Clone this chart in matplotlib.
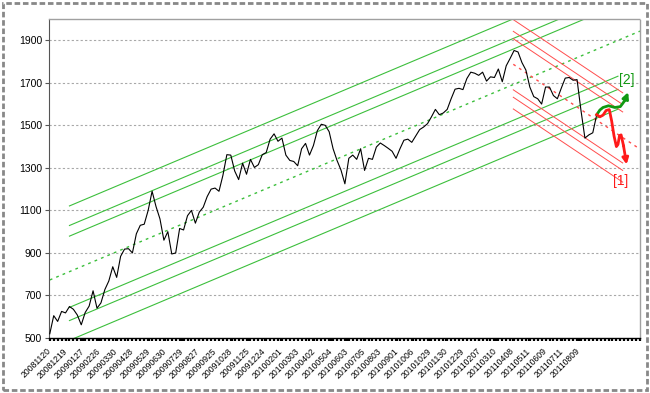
import numpy as np
import matplotlib
matplotlib.use("Agg")
import matplotlib.pyplot as plt
from matplotlib.patches import Rectangle

plt.rcParams["font.family"] = ["Liberation Sans", "DejaVu Sans"]

# ---- data (trading-day index, 5-day samples) ----
price = [520, 605, 578, 625, 618, 648, 635, 608, 562, 620,
         650, 722, 640, 665, 728, 768, 835, 785, 884, 918,
         920, 900, 990, 1030, 1035, 1100, 1190, 1118, 1060, 960,
         1000, 895, 900, 1015, 1008, 1075, 1100, 1040, 1092, 1115,
         1165, 1200, 1205, 1190, 1265, 1362, 1360, 1285, 1245, 1322,
         1270, 1340, 1302, 1315, 1362, 1372, 1435, 1460, 1425, 1440,
         1360, 1335, 1330, 1310, 1390, 1415, 1360, 1405, 1475, 1505,
         1500, 1470, 1390, 1335, 1290, 1225, 1345, 1360, 1340, 1390,
         1288, 1345, 1340, 1398, 1417, 1405, 1392, 1378, 1345, 1390,
         1430, 1435, 1420, 1450, 1480, 1492, 1508, 1540, 1575, 1550,
         1558, 1575, 1625, 1670, 1674, 1668, 1720, 1750, 1745, 1735,
         1750, 1708, 1728, 1725, 1765, 1705, 1780, 1815, 1852, 1845,
         1795, 1760, 1680, 1635, 1625, 1600, 1680, 1680, 1640, 1625,
         1675, 1722, 1725, 1712, 1715, 1570, 1440, 1455, 1465, 1550]
STEP = 5

date_labels = ["20081120", "20081219", "20090127", "20090226", "20090330", "20090428",
               "20090529", "20090630", "20090729", "20090827", "20090925", "20091028",
               "20091125", "20091224", "20100201", "20100303", "20100402", "20100504",
               "20100603", "20100705", "20100803", "20100901", "20101006", "20101029",
               "20101130", "20101229", "20110207", "20110310", "20110408", "20110511",
               "20110609", "20110711", "20110809"]
LABEL_EVERY = 21

# rising (green) channel: values at day 25 and day 722
green_days = [25, 722]
green_start = [1121, 1029, 979, 644, 582, 489]
green_end = [2208, 2116, 2066, 1731, 1669, 1576]
green_mid_days = [0, 750]
green_mid = [773, 1943]

# falling (red) channel: values at day 589 and day 728
red_days = [589, 728]
red_start = [1997, 1942, 1907, 1667, 1632, 1577]
red_end = [1653, 1598, 1563, 1323, 1288, 1233]
red_mid_days = [589, 750]
red_mid = [1787, 1388]

# scenario paths
sc2_days = [695, 699, 703, 710, 718, 725, 731, 735]
sc2_vals = [1550, 1572, 1584, 1592, 1584, 1588, 1618, 1656]
sc1_days = [695, 699, 703, 707, 711, 714, 717, 720, 722, 724, 726, 729, 733]
sc1_vals = [1550, 1540, 1548, 1570, 1574, 1520, 1450, 1400, 1410, 1452, 1455, 1405, 1316]

GREEN = "#3cbf3c"
RED = "#ff4d4d"

fig = plt.figure(figsize=(6.5, 3.93), dpi=100)
ax = fig.add_axes([49 / 650, 1 - 338 / 393, 591 / 650, 319 / 393])

# grid
for v in range(700, 2000, 200):
    ax.axhline(v, color="#a8a8a8", lw=0.8, ls=(0, (2, 2)), zorder=0)

# green channel
for s, e in zip(green_start, green_end):
    ax.plot(green_days, [s, e], color=GREEN, lw=0.8, zorder=2)
ax.plot(green_mid_days, green_mid, color=GREEN, lw=1.0, ls=(0, (2, 3)), zorder=2)

# red channel
for s, e in zip(red_start, red_end):
    ax.plot(red_days, [s, e], color=RED, lw=0.7, zorder=2)
ax.plot(red_mid_days, red_mid, color=RED, lw=1.0, ls=(0, (2, 3)), zorder=2)

# price
days = np.arange(len(price)) * STEP
ax.plot(days, price, color="black", lw=0.8, zorder=3)

# scenarios
ax.plot(sc2_days[:-1], sc2_vals[:-1], color="#119911", lw=2, zorder=4)
ax.annotate("", xy=(sc2_days[-1], sc2_vals[-1]), xytext=(sc2_days[-2], sc2_vals[-2]),
            arrowprops=dict(arrowstyle="-|>", color="#119911", lw=2, mutation_scale=9,
                            shrinkA=0, shrinkB=0), zorder=4)
ax.plot(sc1_days[:-1], sc1_vals[:-1], color="#ff1a1a", lw=2, zorder=4)
ax.annotate("", xy=(sc1_days[-1], sc1_vals[-1]), xytext=(sc1_days[-2], sc1_vals[-2]),
            arrowprops=dict(arrowstyle="-|>", color="#ff1a1a", lw=2, mutation_scale=9,
                            shrinkA=0, shrinkB=0), zorder=4)
ax.text(733, 1711, "[2]", color="#119911", fontsize=10, ha="center", va="center")
ax.text(726, 1237, "[1]", color="#ff1a1a", fontsize=10, ha="center", va="center")

# axes
ax.set_xlim(-1, 750)
ax.set_ylim(500, 2000)
ax.set_yticks(range(500, 2000, 200))
ax.tick_params(axis="y", labelsize=7.5, length=3, color="#555555", pad=2)
ax.set_xticks(np.arange(len(date_labels)) * LABEL_EVERY)
ax.set_xticklabels(date_labels, rotation=45, ha="right", va="center",
                   rotation_mode="anchor", fontsize=6.2)
ax.set_xticks(np.arange(0, 751, 5), minor=True)
ax.tick_params(axis="x", which="both", length=2.5, width=1.6, color="black", pad=6)

ax.spines["left"].set_color("#555555")
ax.spines["bottom"].set_color("black")
ax.spines["bottom"].set_linewidth(1.0)
for side in ("top", "right"):
    ax.spines[side].set_color("#a0a0a0")
    ax.spines[side].set_linestyle((0, (1, 1)))
    ax.spines[side].set_linewidth(1.0)

# outer chart border
fig.patches.append(Rectangle((0.005, 0.008), 0.99, 0.984, transform=fig.transFigure,
                             fill=False, edgecolor="#888888", lw=2, ls=(0, (2, 1))))

fig.savefig("out.png", dpi=100)
